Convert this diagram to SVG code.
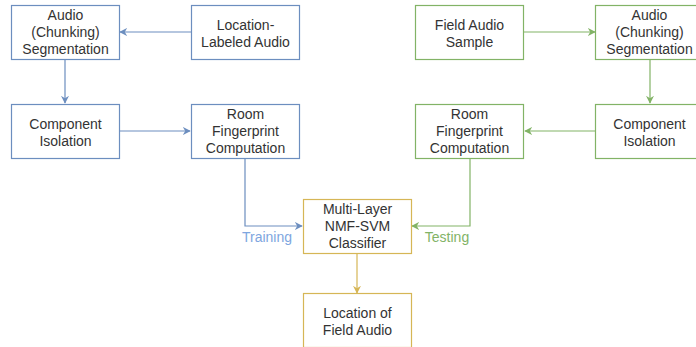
<svg xmlns="http://www.w3.org/2000/svg" width="696" height="347" viewBox="0 0 696 347">
<defs>
<style>
.box{fill:#ffffff;stroke-width:1.2}
.b{stroke:#6c8ebf}
.g{stroke:#82b366}
.y{stroke:#d6b656}
text{font-family:"Liberation Sans",Arial,sans-serif;font-size:14px;fill:#333333;text-anchor:middle}
.lnk{fill:none;stroke-width:1.2}
</style>
<marker id="ab" viewBox="0 0 10 10" refX="9" refY="5" markerWidth="8" markerHeight="8" markerUnits="userSpaceOnUse" orient="auto"><path d="M0,0 L10,5 L0,10 L3,5 Z" fill="#6c8ebf"/></marker>
<marker id="ag" viewBox="0 0 10 10" refX="9" refY="5" markerWidth="8" markerHeight="8" markerUnits="userSpaceOnUse" orient="auto"><path d="M0,0 L10,5 L0,10 L3,5 Z" fill="#82b366"/></marker>
<marker id="ay" viewBox="0 0 10 10" refX="9" refY="5" markerWidth="8" markerHeight="8" markerUnits="userSpaceOnUse" orient="auto"><path d="M0,0 L10,5 L0,10 L3,5 Z" fill="#d6b656"/></marker>
</defs>
<rect width="696" height="347" fill="#ffffff"/>
<g id="connectors">
<path class="lnk b" d="M191,32 H120" marker-end="url(#ab)"/>
<path class="lnk b" d="M65,59 V103" marker-end="url(#ab)"/>
<path class="lnk b" d="M119,131 H190" marker-end="url(#ab)"/>
<path class="lnk b" d="M245,158 V226 H302" marker-end="url(#ab)"/>
<path class="lnk g" d="M524,32 H595" marker-end="url(#ag)"/>
<path class="lnk g" d="M650,59 V103" marker-end="url(#ag)"/>
<path class="lnk g" d="M596,131 H525" marker-end="url(#ag)"/>
<path class="lnk g" d="M470,158 V226 H412" marker-end="url(#ag)"/>
<path class="lnk y" d="M357,253 V293" marker-end="url(#ay)"/>
<text x="267" y="242" style="fill:#7ea6e0">Training</text>
<text x="447" y="242" style="fill:#82b366">Testing</text>
</g>
<g id="seg-left">
<rect class="box b" x="11.5" y="5.5" width="108" height="54"/>
<text x="65.5" y="20">Audio</text><text x="65.5" y="37">(Chunking)</text><text x="65.5" y="54">Segmentation</text>
</g>
<g id="labeled-audio">
<rect class="box b" x="191.5" y="5.5" width="108" height="54"/>
<text x="245.5" y="30">Location-</text><text x="245.5" y="47">Labeled Audio</text>
</g>
<g id="iso-left">
<rect class="box b" x="11.5" y="104.5" width="108" height="54"/>
<text x="65.5" y="129">Component</text><text x="65.5" y="146">Isolation</text>
</g>
<g id="fp-left">
<rect class="box b" x="191.5" y="104.5" width="108" height="54"/>
<text x="245.5" y="119">Room</text><text x="245.5" y="136">Fingerprint</text><text x="245.5" y="153">Computation</text>
</g>
<g id="field-audio">
<rect class="box g" x="415.5" y="5.5" width="108" height="54"/>
<text x="469.5" y="30">Field Audio</text><text x="469.5" y="47">Sample</text>
</g>
<g id="seg-right">
<rect class="box g" x="595.5" y="5.5" width="108" height="54"/>
<text x="649.5" y="20">Audio</text><text x="649.5" y="37">(Chunking)</text><text x="649.5" y="54">Segmentation</text>
</g>
<g id="fp-right">
<rect class="box g" x="415.5" y="104.5" width="108" height="54"/>
<text x="469.5" y="119">Room</text><text x="469.5" y="136">Fingerprint</text><text x="469.5" y="153">Computation</text>
</g>
<g id="iso-right">
<rect class="box g" x="595.5" y="104.5" width="108" height="54"/>
<text x="649.5" y="129">Component</text><text x="649.5" y="146">Isolation</text>
</g>
<g id="classifier">
<rect class="box y" x="303.5" y="199.5" width="108" height="54"/>
<text x="357.5" y="214">Multi-Layer</text><text x="357.5" y="231">NMF-SVM</text><text x="357.5" y="248">Classifier</text>
</g>
<g id="location">
<rect class="box y" x="303.5" y="293.5" width="108" height="54"/>
<text x="357.5" y="318">Location of</text><text x="357.5" y="335">Field Audio</text>
</g>
</svg>
